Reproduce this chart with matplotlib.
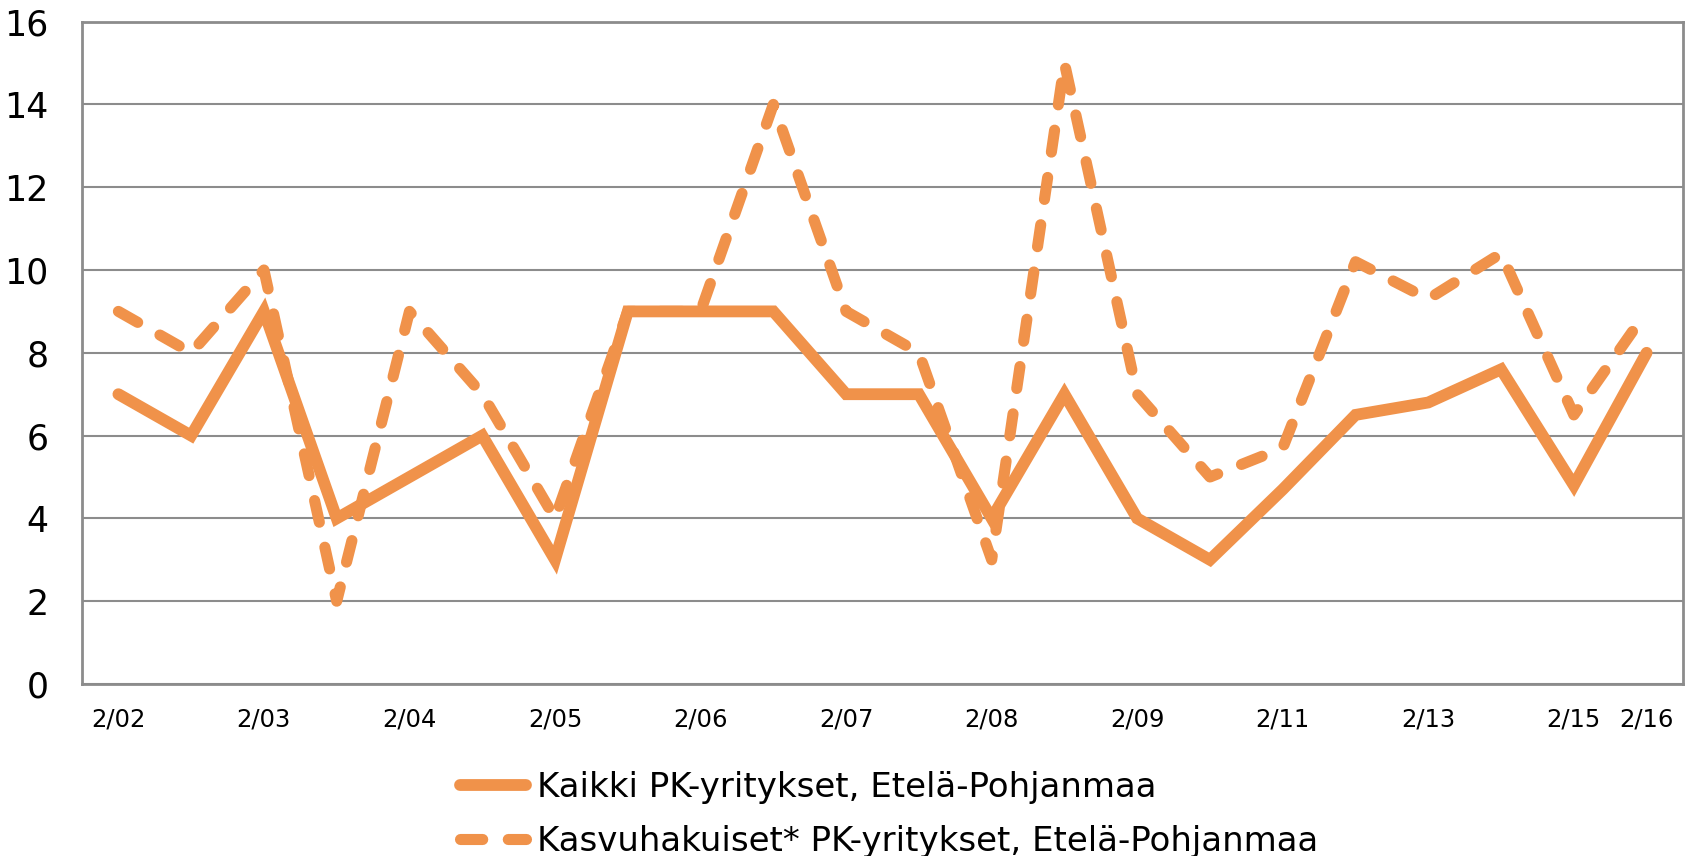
import numpy as np
import matplotlib
matplotlib.use('Agg')
import matplotlib.pyplot as plt

# half-year observations, only every other one is labelled on the axis
labels = ['2/02', '', '2/03', '', '2/04', '', '2/05', '', '2/06', '', '2/07', '',
          '2/08', '', '2/09', '', '2/11', '', '2/13', '', '2/15', '2/16']
kaikki = [7, 6, 9, 4, 5, 6, 3, 9, 9, 9, 7, 7, 4, 7, 4, 3, 4.7, 6.5, 6.8, 7.6, 4.8, 8]
kasvu = [9, 8, 10, 2, 9, 7, 4, 9, 9, 14, 9, 8, 3, 15, 7, 5, 5.7, 10.2, 9.3, 10.4, 6.5, 9]
series_names = ['Kaikki PK-yritykset, Etelä-Pohjanmaa',
                'Kasvuhakuiset* PK-yritykset, Etelä-Pohjanmaa']

orange = '#F0924A'
grid_col = '#8C8C8C'

fig = plt.figure(figsize=(16.92, 8.56), dpi=100)
ax = fig.add_axes([82/1692, 1-684/856, (1683-82)/1692, (684-21.6)/856])

x = np.arange(len(labels))
ax.plot(x, kaikki, color=orange, lw=8.5, solid_capstyle='round', solid_joinstyle='miter',
        label=series_names[0], zorder=3)
ax.plot(x, kasvu, color=orange, lw=8, linestyle=(0, (2.0, 2.3)), dash_capstyle='round',
        label=series_names[1], zorder=3)

ax.set_xlim(-0.5, len(labels) - 0.5)
ax.set_ylim(0, 16)
ax.set_yticks(np.arange(0, 17, 2))
ax.set_xticks(x)
ax.set_xticklabels(labels, fontsize=17.5)
ax.tick_params(axis='y', labelsize=25, length=0, pad=24)
ax.tick_params(axis='x', length=0, pad=17)
ax.grid(axis='y', color=grid_col, lw=1.5, zorder=0)
for s in ax.spines.values():
    s.set_color(grid_col)
    s.set_linewidth(2)

fig.legend(loc='upper left', bbox_to_anchor=(460/1692, 1-771/856), frameon=False,
           fontsize=24.5, handlelength=1.95, handletextpad=0.3, borderpad=0,
           labelspacing=0.62, borderaxespad=0)

fig.savefig('out.png', dpi=100)
